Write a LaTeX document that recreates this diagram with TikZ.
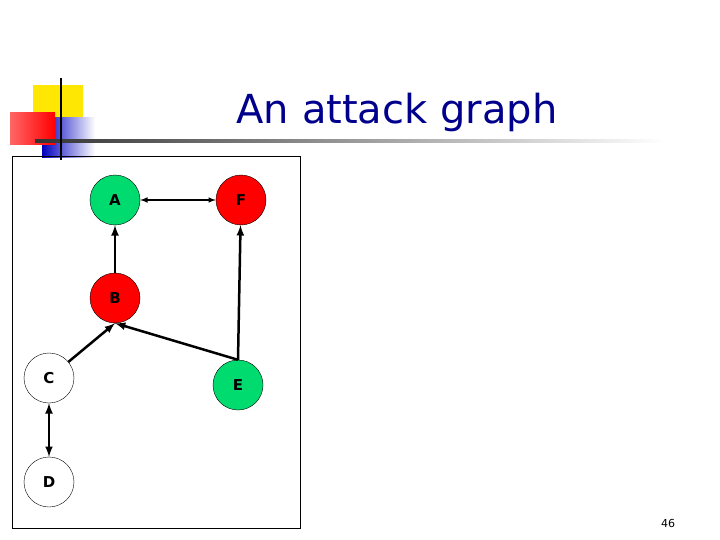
\documentclass[tikz,border=0pt]{standalone}
\usepackage{fontspec}
\setmainfont{DejaVu Sans}
\begin{document}
\begin{tikzpicture}[x=1pt,y=-1pt,
  vtx/.style={circle,draw=black,thin,minimum size=50pt,inner sep=0pt,font=\bfseries\fontsize{15}{18}\selectfont},
  edge/.style={line width=2.5pt,-latex},
  bedge/.style={line width=2.5pt,latex-latex}]
\useasboundingbox (0,0) rectangle (720,540);
\fill[white] (0,0) rectangle (720,540);
% logo
\fill[yellow!90!orange] (33,85) rectangle (83,135);
\shade[left color=blue!75!black,right color=white] (42,118) rectangle (95,158);
\shade[left color=red!60!white,right color=red] (10,113) rectangle (55,145);
\shade[left color=black!80,right color=white] (35,140) rectangle (665,143);
\draw[line width=2pt] (61,78) -- (61,160);
\node[text=blue!55!black,font=\fontsize{40}{48}\selectfont] (title) at (397,112) {An attack graph};
\node[font=\fontsize{11}{13}\selectfont] (pg) at (668,523) {46};
\draw[thin] (12,156) rectangle (300,528);
\node[vtx,fill=teal!40!green!70!cyan] (A) at (115,200) {A};
\node[vtx,fill=red] (F) at (241,200) {F};
\node[vtx,fill=red] (B) at (115,298) {B};
\node[vtx,fill=white] (C) at (49,378) {C};
\node[vtx,fill=teal!40!green!70!cyan] (E) at (238,385) {E};
\node[vtx,fill=white] (D) at (49,482) {D};
\draw[edge] (B) -- (A);
\draw[edge] (C) -- (B.south);
\draw[edge] (E.north) -- (B.south);
\draw[edge] (E.north) -- (F);
\draw[latex-latex,line width=1.5pt] (A) -- (F);
\draw[bedge] (C) -- (D);
\end{tikzpicture}
\end{document}
